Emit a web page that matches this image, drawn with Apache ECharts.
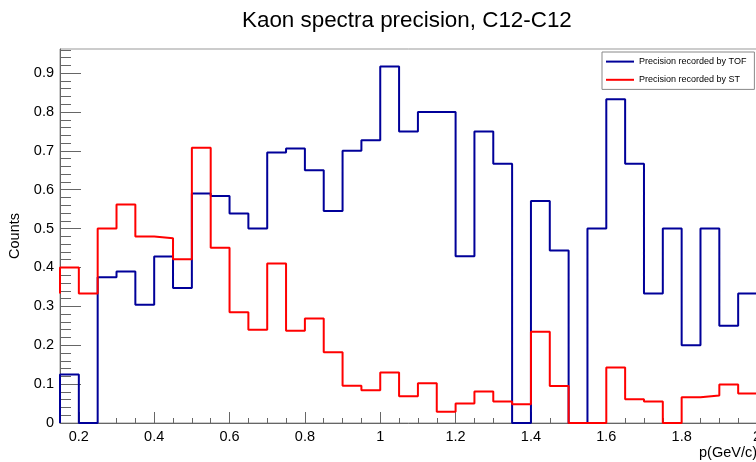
<!DOCTYPE html>
<html>
<head>
<meta charset="utf-8">
<script src="https://cdn.jsdelivr.net/npm/echarts@6/dist/echarts.min.js"></script>
<style>
html,body{margin:0;padding:0;background:#fff;}
#chart{width:756px;height:462px;}
</style>
</head>
<body>
<div id="chart"></div>
<script>
// Bin low edges (bin width 0.05), p in GeV/c
const binLowEdges = [0.15,0.20,0.25,0.30,0.35,0.40,0.45,0.50,0.55,0.60,0.65,0.70,0.75,0.80,0.85,0.90,0.95,1.00,1.05,1.10,1.15,1.20,1.25,1.30,1.35,1.40,1.45,1.50,1.55,1.60,1.65,1.70,1.75,1.80,1.85,1.90,1.95];
const binUpperEnd = 2.0;
// Precision recorded by TOF
const tofValues = [0.125,0,0.375,0.39,0.304,0.428,0.347,0.59,0.584,0.539,0.5,0.696,0.706,0.65,0.545,0.7,0.727,0.917,0.75,0.8,0.8,0.429,0.75,0.667,0,0.571,0.444,0,0.5,0.833,0.667,0.333,0.5,0.2,0.5,0.25,0.333];
const tofBefore = 0;
// Precision recorded by ST
const stValues = [0.4,0.333,0.5,0.562,0.48,0.475,0.421,0.708,0.451,0.285,0.24,0.41,0.237,0.269,0.182,0.096,0.084,0.13,0.069,0.102,0.029,0.05,0.081,0.055,0.048,0.235,0.095,0,0,0.143,0.061,0.055,0,0.066,0.071,0.099,0.076];
const stBefore = 0.333;
// Tick labels
const xTickValues = [0.2,0.4,0.6,0.8,1.0,1.2,1.4,1.6,1.8,2.0];
const xMinorTickValues = [0.15,0.2,0.25,0.3,0.35,0.4,0.45,0.5,0.55,0.6,0.65,0.7,0.75,0.8,0.85,0.9,0.95,1.0,1.05,1.1,1.15,1.2,1.25,1.3,1.35,1.4,1.45,1.5,1.55,1.6,1.65,1.7,1.75,1.8,1.85,1.9,1.95,2.0];
const yTickValues = [0,0.1,0.2,0.3,0.4,0.5,0.6,0.7,0.8,0.9];
const yMinorTickValues = [0,0.02,0.04,0.06,0.08,0.1,0.12,0.14,0.16,0.18,0.2,0.22,0.24,0.26,0.28,0.3,0.32,0.34,0.36,0.38,0.4,0.42,0.44,0.46,0.48,0.5,0.52,0.54,0.56,0.58,0.6,0.62,0.64,0.66,0.68,0.7,0.72,0.74,0.76,0.78,0.8,0.82,0.84,0.86,0.88,0.9,0.92,0.94,0.96];

function stepData(values, before) {
  const pts = [[binLowEdges[0], before]];
  for (let i = 0; i < values.length; i++) pts.push([binLowEdges[i], values[i]]);
  pts.push([binUpperEnd, values[values.length - 1]]);
  return pts;
}

const FONT = 'Liberation Sans, Arial, Helvetica, sans-serif';
const axisCol = '#666';

const chart = echarts.init(document.getElementById('chart'), null, {renderer: 'canvas'});
chart.setOption({
  animation: false,
  backgroundColor: '#fff',
  title: {
    text: 'Kaon spectra precision, C12-C12',
    left: 242, top: 10, padding: 0,
    textStyle: {fontFamily: FONT, fontSize: 22.4, fontWeight: 'normal', color: '#000'}
  },
  legend: {
    left: 602, top: 52,
    orient: 'vertical',
    padding: [4, 8, 4, 3],
    itemWidth: 28, itemHeight: 14, itemGap: 7,
    itemStyle: {opacity: 0},
    backgroundColor: '#fff',
    borderColor: '#888', borderWidth: 1, borderRadius: 0,
    textStyle: {fontFamily: FONT, fontSize: 9, color: '#000'},
    data: ['Precision recorded by TOF', 'Precision recorded by ST']
  },
  grid: {
    left: 60, top: 49, right: -1, bottom: 39,
    outerBoundsMode: 'none', containLabel: false,
    show: true, borderColor: '#999', borderWidth: 1, backgroundColor: 'transparent'
  },
  xAxis: [{
    type: 'value', min: 0.15, max: 2.0,
    name: 'p(GeV/c)', nameLocation: 'end', nameGap: 0,
    nameTextStyle: {fontFamily: FONT, fontSize: 14.5, color: '#000', align: 'right', verticalAlign: 'top', padding: [22, 0, 0, 0]},
    axisLine: {show: true, onZero: false, lineStyle: {color: axisCol, width: 1}},
    axisTick: {show: true, inside: true, length: 11, customValues: xTickValues, lineStyle: {color: axisCol}},
    axisLabel: {show: true, customValues: xTickValues, margin: 6, fontFamily: FONT, fontSize: 14.5, color: '#000'},
    splitLine: {show: false}
  }, {
    type: 'value', min: 0.15, max: 2.0, position: 'bottom',
    axisLine: {show: false},
    axisTick: {show: true, inside: true, length: 5, customValues: xMinorTickValues, lineStyle: {color: axisCol}},
    axisLabel: {show: false},
    splitLine: {show: false}
  }],
  yAxis: [{
    type: 'value', min: 0, max: 0.962,
    name: 'Counts', nameLocation: 'middle', nameGap: 35, nameRotate: 90,
    nameTextStyle: {fontFamily: FONT, fontSize: 14.5, color: '#000', padding: [0, 0, 0, 0]},
    axisLine: {show: true, onZero: false, lineStyle: {color: axisCol, width: 1}},
    axisTick: {show: true, inside: true, length: 21, customValues: yTickValues, lineStyle: {color: axisCol}},
    axisLabel: {show: true, customValues: yTickValues, margin: 6, fontFamily: FONT, fontSize: 14.5, color: '#000'},
    splitLine: {show: false}
  }, {
    type: 'value', min: 0, max: 0.962, position: 'left',
    axisLine: {show: false},
    axisTick: {show: true, inside: true, length: 11, customValues: yMinorTickValues, lineStyle: {color: axisCol}},
    axisLabel: {show: false},
    splitLine: {show: false}
  }],
  series: [{
    name: 'Precision recorded by TOF',
    type: 'line', step: 'end', symbol: 'none',
    xAxisIndex: 0, yAxisIndex: 0,
    lineStyle: {color: '#000099', width: 2},
    itemStyle: {color: '#000099'},
    data: stepData(tofValues, tofBefore)
  }, {
    name: 'Precision recorded by ST',
    type: 'line', step: 'end', symbol: 'none',
    xAxisIndex: 0, yAxisIndex: 0,
    lineStyle: {color: '#ff0000', width: 2},
    itemStyle: {color: '#ff0000'},
    data: stepData(stValues, stBefore)
  }]
});
</script>
</body>
</html>
